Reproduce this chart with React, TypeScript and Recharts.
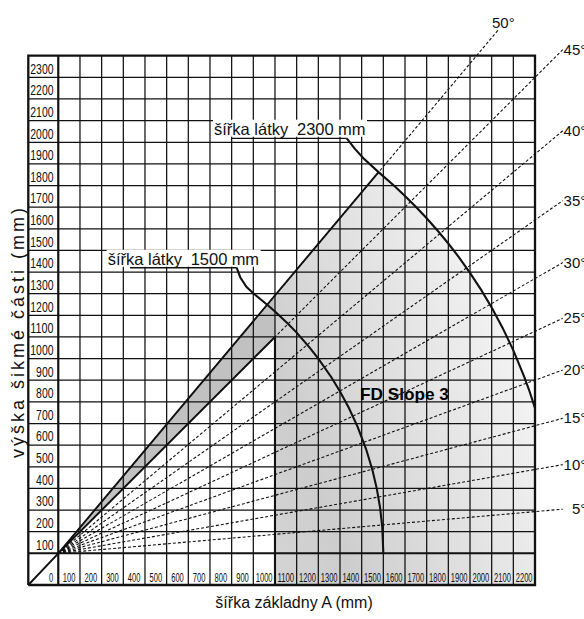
import { Area, ComposedChart, Line, Scatter, XAxis, YAxis } from "recharts";

// chart canvas and the mm -> pixel window (axes are hidden, plot fills the svg)
const W = 584;
const H = 619;
const X_DOMAIN: [number, number] = [-269.1, 2426.1];
const Y_DOMAIN: [number, number] = [-303.6, 2557.5];

// grid extents in mm; the label strips sit left of x=0 and below y=0
const X_MAX = 2200;
const Y_MAX = 2300;
const STRIP_X = -138.5;
const STRIP_Y = -146.5;
const SPLIT_X = 1000;

const xTickValues = [100, 200, 300, 400, 500, 600, 700, 800, 900, 1000, 1100, 1200, 1300, 1400, 1500, 1600, 1700, 1800, 1900, 2000, 2100, 2200];
const yTickValues = [100, 200, 300, 400, 500, 600, 700, 800, 900, 1000, 1100, 1200, 1300, 1400, 1500, 1600, 1700, 1800, 1900, 2000, 2100, 2200, 2300];

// roof angle rays: label and where each dashed ray ends
const angleLabels = ["5°", "10°", "15°", "20°", "25°", "30°", "35°", "40°", "45°", "50°"];
const angleEndX = [2328, 2328, 2328, 2328, 2328, 2328, 2328, 2328, 2328, 2031];
const angleEndY = [204, 410, 624, 847, 1086, 1344, 1630, 1953, 2328, 2420];

// fabric width curves, starting at the label underline end
const arc1500 = [
  { x: 823, y: 1320 }, { x: 840, y: 1275 }, { x: 869, y: 1231 }, { x: 900, y: 1202 },
  { x: 964, y: 1149 }, { x: 1000, y: 1118 }, { x: 1060, y: 1061 }, { x: 1100, y: 1020 },
  { x: 1160, y: 951 }, { x: 1200, y: 900 }, { x: 1260, y: 814 }, { x: 1300, y: 748 },
  { x: 1340, y: 674 }, { x: 1380, y: 588 }, { x: 1420, y: 483 }, { x: 1450, y: 384 },
  { x: 1470, y: 298 }, { x: 1485, y: 211 }, { x: 1495, y: 122 }, { x: 1500, y: 0 },
];
const arc2300 = [
  { x: 1331, y: 1918 }, { x: 1370, y: 1868 }, { x: 1408, y: 1826 }, { x: 1478, y: 1762 },
  { x: 1550, y: 1699 }, { x: 1600, y: 1652 }, { x: 1650, y: 1602 }, { x: 1700, y: 1549 },
  { x: 1750, y: 1492 }, { x: 1800, y: 1432 }, { x: 1850, y: 1367 }, { x: 1900, y: 1296 },
  { x: 1950, y: 1220 }, { x: 2000, y: 1136 }, { x: 2050, y: 1043 }, { x: 2100, y: 938 },
  { x: 2150, y: 817 }, { x: 2175, y: 748 }, { x: 2200, y: 671 },
];
const underline1500 = [{ x: 331, y: 1320 }, { x: 823, y: 1320 }];
const underline2300 = [{ x: 800, y: 1918 }, { x: 1331, y: 1918 }];

// solid limit lines (45° and 50°) and the corner diagonal
const limitLines = [
  { x: STRIP_X, y: STRIP_Y }, { x: 0, y: 0 }, { x: 1478, y: 1762 }, { x: 1478, y: null },
  { x: 0, y: 0 }, { x: 1000, y: 1000 },
];

// shaded zones
const band = [{ x: 0, r: [0, 0] }, { x: 1000, r: [1000, 1192] }];
const lightZone = [
  { x: 1000, r: [STRIP_Y, 1192] },
  ...arc2300.filter((p) => p.x >= 1478).map((p) => ({ x: p.x, r: [STRIP_Y, p.y] })),
];

const fabricLabels = [
  { x: 714, y: 1921, w: "2300" },
  { x: 223, y: 1320, w: "1500" },
];

const FONT = "'Liberation Sans', Arial, sans-serif";
const INK = "#111";

const vGrid = [0, ...xTickValues.slice(0, -1)].flatMap((v) => [
  { x: v, y: STRIP_Y }, { x: v, y: Y_MAX }, { x: v, y: null },
]);
const hGrid = yTickValues.slice(0, -1).flatMap((v) => [
  { x: STRIP_X, y: v }, { x: X_MAX, y: v }, { x: X_MAX, y: null },
]);
const frame = [
  { x: STRIP_X, y: STRIP_Y }, { x: X_MAX, y: STRIP_Y }, { x: X_MAX, y: Y_MAX },
  { x: STRIP_X, y: Y_MAX }, { x: STRIP_X, y: STRIP_Y },
];
const thickAxes = [
  { x: STRIP_X, y: 0 }, { x: X_MAX, y: 0 }, { x: X_MAX, y: null },
  { x: 0, y: STRIP_Y }, { x: 0, y: Y_MAX }, { x: 0, y: null },
  { x: SPLIT_X, y: STRIP_Y }, { x: SPLIT_X, y: 1000 },
];

const yLabelPts = yTickValues.map((v) => ({ x: 0, y: v - 100, t: String(v) }));
const xLabelPts = [{ x: 0, y: 0, t: "0", end: true }, ...xTickValues.map((v) => ({ x: v - 50, y: 0, t: String(v), end: false }))];
const anglePts = angleLabels.map((t, i) => ({ x: angleEndX[i], y: angleEndY[i], t, top: i === angleLabels.length - 1 }));

// annotation anchors (mm coordinates)
const notes = [
  { x: -160, y: 1018, kind: "ytitle" },
  { x: 1088, y: -253, kind: "xtitle" },
  { x: 1392, y: 709, kind: "model" },
];

function line(key: string, data: any[], width: number, dash?: string) {
  return (
    <Line
      key={key}
      data={data}
      dataKey="y"
      type="linear"
      stroke={INK}
      strokeWidth={width}
      strokeDasharray={dash}
      dot={false}
      activeDot={false}
      isAnimationActive={false}
      connectNulls={false}
    />
  );
}

export default function App() {
  return (
    <div style={{ position: "absolute", left: 0, top: 0, width: W, height: H, background: "#fff" }}>
      <ComposedChart width={W} height={H} margin={{ top: 0, right: 0, bottom: 0, left: 0 }}>
        <defs>
          <linearGradient id="shade" x1="0" y1="0.9" x2="1" y2="0.3">
            <stop offset="0%" stopColor="#d3d3d3" />
            <stop offset="18%" stopColor="#cdcdcd" />
            <stop offset="55%" stopColor="#e2e2e2" />
            <stop offset="100%" stopColor="#f8f8f8" />
          </linearGradient>
        </defs>
        <XAxis type="number" dataKey="x" domain={X_DOMAIN} hide allowDataOverflow />
        <YAxis type="number" dataKey="y" domain={Y_DOMAIN} hide allowDataOverflow />

        <Area data={lightZone} dataKey="r" type="linear" fill="url(#shade)" fillOpacity={1} stroke="none" isAnimationActive={false} activeDot={false} dot={false} />
        <Area data={band} dataKey="r" type="linear" fill="#c1c1c1" fillOpacity={1} stroke="none" isAnimationActive={false} activeDot={false} dot={false} />

        {line("vgrid", vGrid, 1.25)}
        {line("hgrid", hGrid, 1.25)}
        {angleLabels.map((t, i) =>
          line("ray" + t, [{ x: 0, y: 0 }, { x: angleEndX[i], y: angleEndY[i] }], 1.1, "3 2")
        )}
        {line("frame", frame, 2.3)}
        {line("axes", thickAxes, 2.1)}
        {line("limits", limitLines, 1.9)}
        {line("arc1500", arc1500, 2.1)}
        {line("arc2300", arc2300, 2.1)}
        {line("u1500", underline1500, 1.4)}
        {line("u2300", underline2300, 1.4)}

        <Scatter
          data={fabricLabels}
          isAnimationActive={false}
          shape={(p: any) => (
            <g>
              <rect x={p.cx} y={p.cy - 18} width={154} height={17} fill="#fff" />
              <text y={p.cy - 2.5} fontSize={16.5} fontFamily={FONT} fill={INK}>
                <tspan x={p.cx + 1}>šířka látky</tspan>
                <tspan x={p.cx + 84}>{p.payload.w}</tspan>
                <tspan x={p.cx + 125}>mm</tspan>
              </text>
            </g>
          )}
        />
        <Scatter
          data={yLabelPts}
          isAnimationActive={false}
          shape={(p: any) => (
            <text x={p.cx - 4.8} y={p.cy - 3.7} textAnchor="end" fontSize={15.5} fontFamily={FONT} fill={INK}
              textLength={p.payload.t.length * 5.8} lengthAdjust="spacingAndGlyphs">
              {p.payload.t}
            </text>
          )}
        />
        <Scatter
          data={xLabelPts}
          isAnimationActive={false}
          shape={(p: any) => (
            <text x={p.payload.end ? p.cx - 5 : p.cx} y={p.cy + 28.2} textAnchor={p.payload.end ? "end" : "middle"}
              fontSize={12.5} fontFamily={FONT} fill={INK}
              textLength={p.payload.t.length * 4.2} lengthAdjust="spacingAndGlyphs">
              {p.payload.t}
            </text>
          )}
        />
        <Scatter
          data={anglePts}
          isAnimationActive={false}
          shape={(p: any) => (
            <text x={p.payload.top ? p.cx + 5 : p.cx + 23.5} y={p.payload.top ? p.cy - 2 : p.cy + 5}
              textAnchor={p.payload.top ? "middle" : "end"} fontSize={15} fontFamily={FONT} fill={INK}>
              {p.payload.t}
            </text>
          )}
        />
        <Scatter
          data={notes}
          isAnimationActive={false}
          shape={(p: any) => {
            const k = p.payload.kind;
            if (k === "ytitle")
              return (
                <text x={p.cx} y={p.cy} transform={`rotate(-90 ${p.cx} ${p.cy})`} textAnchor="middle"
                  fontSize={18} fontFamily={FONT} fill={INK} textLength={250} lengthAdjust="spacing">
                  výška šikmé části  (mm)
                </text>
              );
            if (k === "xtitle")
              return (
                <text x={p.cx} y={p.cy} textAnchor="middle" fontSize={16} fontFamily={FONT} fill={INK}>
                  šířka základny A (mm)
                </text>
              );
            return (
              <text x={p.cx} y={p.cy} fontSize={17} fontWeight="bold" fontFamily={FONT} fill="#000"
                textLength={89} lengthAdjust="spacingAndGlyphs">
                FD Slope 3
              </text>
            );
          }}
        />
      </ComposedChart>
    </div>
  );
}
